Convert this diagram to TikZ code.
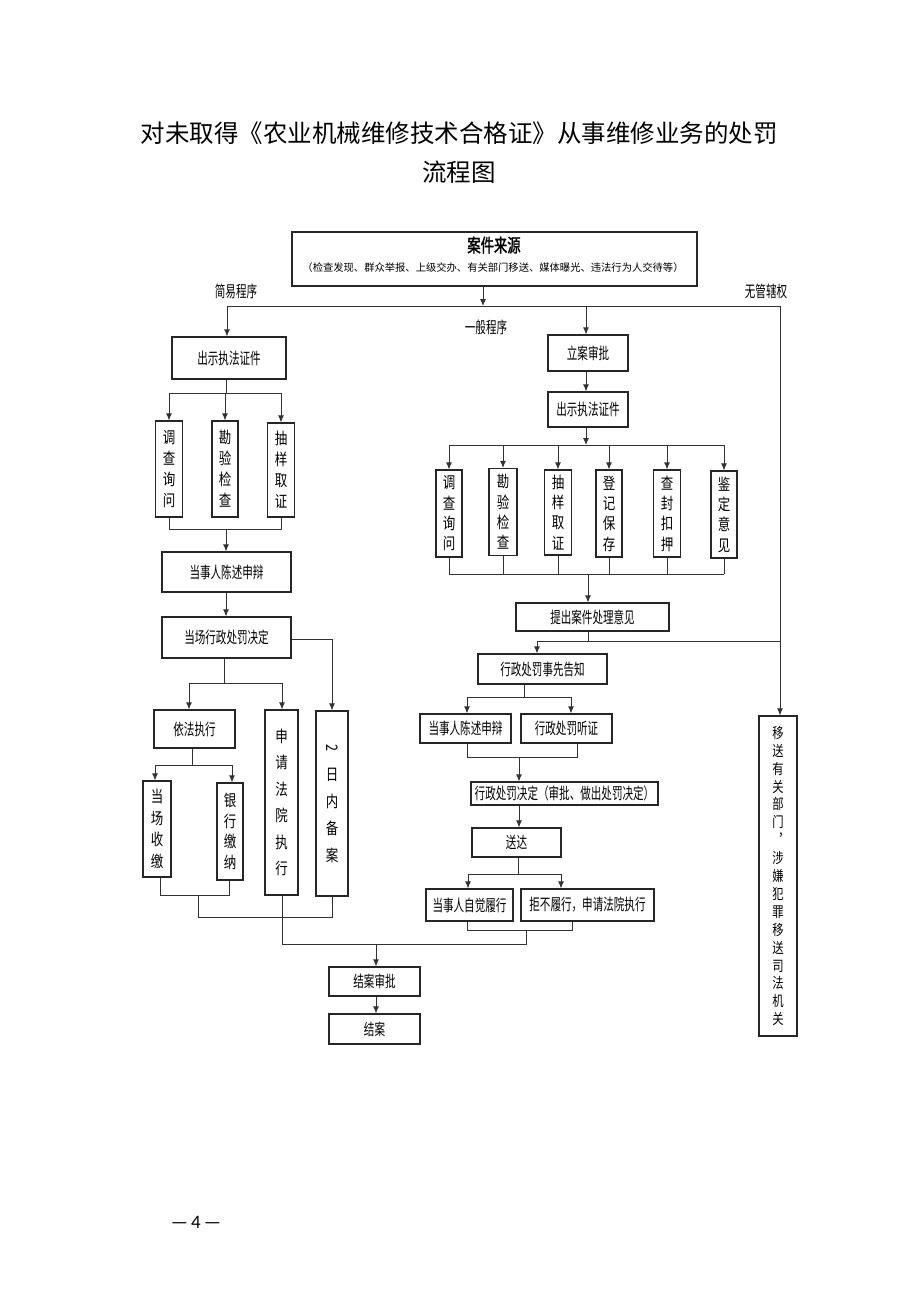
\documentclass[tikz,border=0pt]{standalone}
\usepackage{fontspec}
\usepackage{graphicx}
\usetikzlibrary{arrows.meta}
\newfontfamily\cjk{Noto Sans CJK SC}
\newfontfamily\cjkn[FakeStretch=0.66]{Noto Sans CJK SC}
\newfontfamily\cjkv[FakeStretch=0.78]{Noto Sans CJK SC}
\newfontfamily\cjknb[FakeStretch=0.72,FakeBold=1.5]{Noto Sans CJK SC}
\newfontfamily\pnum{Carlito}
\tikzset{
  bx/.style={draw=black!85, line width=1.2pt, inner sep=0pt, font=\fontsize{16}{18}\cjkn},
  vbx/.style={draw=black!85, line width=1.2pt, inner sep=0pt, align=center, font=\fontsize{16}{21}\cjkv},
  lbl/.style={inner sep=0pt, font=\fontsize{16}{18}\cjkn},
  ln/.style={draw=black!80, line width=0.9pt},
  arr/.style={ln, -{Latex[length=7pt,width=6pt]}}
}
\begin{document}
\begin{tikzpicture}[x=1pt,y=-1pt]
\useasboundingbox[fill=white] (0,0) rectangle (920,1302);
% title
\node[inner sep=0pt, font=\fontsize{24.5}{26}\cjk] (t1) at (459,133) {对未取得《农业机械维修技术合格证》从事维修业务的处罚};
\node[inner sep=0pt, font=\fontsize{24.5}{26}\cjk] (t2) at (459,172) {流程图};
% source box
\node[bx, minimum width=405pt, minimum height=54pt] (src) at (494.5,259) {};
\node[inner sep=0pt, font=\fontsize{18.5}{20}\cjknb] (srcA) at (494,245) {案件来源};
\node[inner sep=0pt, font=\fontsize{10.3}{12}\cjk] (srcB) at (493,268) {（检查发现、群众举报、上级交办、有关部门移送、媒体曝光、违法行为人交待等）};
% labels
\node[lbl] (la) at (236,291) {简易程序};
\node[lbl] (lb) at (766,291) {无管辖权};
\node[lbl] (lc) at (486,327) {一般程序};
% left column
\node[bx, minimum width=114pt, minimum height=42pt] (L1) at (229,358) {出示执法证件};
\node[vbx, minimum width=27pt, minimum height=96pt] (LV1) at (169,469) {调\\查\\询\\问};
\node[vbx, minimum width=26pt, minimum height=96pt] (LV2) at (225,469) {勘\\验\\检\\查};
\node[vbx, minimum width=27pt, minimum height=94pt] (LV3) at (281,470) {抽\\样\\取\\证};
\node[bx, minimum width=129pt, minimum height=40pt] (L2) at (226.5,572) {当事人陈述申辩};
\node[bx, minimum width=129pt, minimum height=41pt] (L3) at (226.5,637.5) {当场行政处罚决定};
\node[bx, minimum width=81pt, minimum height=38pt] (L4) at (194.5,729) {依法执行};
\node[vbx, minimum width=28pt, minimum height=96pt, font=\fontsize{16}{21.5}\cjkv] (L4a) at (157,829) {当\\场\\收\\缴};
\node[vbx, minimum width=26pt, minimum height=97pt, font=\fontsize{16}{20.5}\cjkv] (L4b) at (230,831.5) {银\\行\\缴\\纳};
\node[vbx, minimum width=33pt, minimum height=185pt, font=\fontsize{16}{26.5}\cjkv] (L6) at (281.5,802.5) {申\\请\\法\\院\\执\\行};
\node[vbx, minimum width=32pt, minimum height=185pt, font=\fontsize{16}{27}\cjkv] (L7) at (332,803.5) {\rotatebox[origin=c]{-90}{2}\\日\\内\\备\\案};
% right column
\node[bx, minimum width=80pt, minimum height=36pt] (R1) at (588,353) {立案审批};
\node[bx, minimum width=80pt, minimum height=35pt] (R2) at (588,409.5) {出示执法证件};
\node[vbx, minimum width=26pt, minimum height=87pt, font=\fontsize{16}{20.3}\cjkv] (RV1) at (449,513.5) {调\\查\\询\\问};
\node[vbx, minimum width=28pt, minimum height=87pt, font=\fontsize{16}{20.3}\cjkv] (RV2) at (503,512) {勘\\验\\检\\查};
\node[vbx, minimum width=27pt, minimum height=85pt, font=\fontsize{16}{20.3}\cjkv] (RV3) at (558,512.5) {抽\\样\\取\\证};
\node[vbx, minimum width=26pt, minimum height=87pt, font=\fontsize{16}{20.3}\cjkv] (RV4) at (609,513.5) {登\\记\\保\\存};
\node[vbx, minimum width=27pt, minimum height=87pt, font=\fontsize{16}{20.3}\cjkv] (RV5) at (667,513.5) {查\\封\\扣\\押};
\node[vbx, minimum width=26pt, minimum height=87pt, font=\fontsize{16}{20.3}\cjkv] (RV6) at (724,514.5) {鉴\\定\\意\\见};
\node[bx, minimum width=153pt, minimum height=28pt] (R3) at (592.5,617) {提出案件处理意见};
\node[bx, minimum width=129pt, minimum height=30pt] (R4) at (542.5,669) {行政处罚事先告知};
\node[bx, minimum width=91pt, minimum height=29pt] (R5a) at (465.5,728.5) {当事人陈述申辩};
\node[bx, minimum width=91pt, minimum height=29pt] (R5b) at (566.5,728.5) {行政处罚听证};
\node[bx, minimum width=187pt, minimum height=23pt] (R6) at (564.5,793.5) {行政处罚决定（审批、做出处罚决定）};
\node[bx, minimum width=89pt, minimum height=29pt] (R7) at (516.5,842.5) {送达};
\node[bx, minimum width=87pt, minimum height=32pt] (R8a) at (469.5,905) {当事人自觉履行};
\node[bx, minimum width=133pt, minimum height=32pt] (R8b) at (587.5,905) {拒不履行，申请法院执行};
% end
\node[bx, minimum width=91pt, minimum height=29pt] (E1) at (374.5,981.5) {结案审批};
\node[bx, minimum width=91pt, minimum height=30pt] (E2) at (374.5,1029) {结案};
% far right
\node[vbx, minimum width=38pt, minimum height=320pt, font=\fontsize{14.5}{17.9}\cjkv] (X) at (778,876) {移\\送\\有\\关\\部\\门\\︐\\涉\\嫌\\犯\\罪\\移\\送\\司\\法\\机\\关};
% page number
\node[inner sep=0pt, font=\fontsize{19}{21}\pnum] (pg) at (196,1222) {—\,4\,—};

% ---- connectors ----
\coordinate (sJ) at (483,306);
\coordinate (sL) at (227,306);
\coordinate (sM) at (586,306);
\coordinate (sR) at (780,306);
\draw[arr] (sJ |- src.south) -- (sJ);
\draw[ln] (sL) -- (sR);
\draw[arr] (sL) -- (sL |- L1.north);
\draw[arr] (sM) -- (sM |- R1.north);
\draw[arr] (sR) -- (sR |- X.north);
% left branch
\coordinate (lb1) at (226,393);
\draw[ln] (lb1 |- L1.south) -- (lb1);
\draw[ln] (LV1.north |- lb1) -- (LV3.north |- lb1);
\foreach \n in {LV1,LV2,LV3} \draw[arr] (\n.north |- lb1) -- (\n.north);
\coordinate (lm1) at (226,529);
\draw[ln] (LV1.south) -- (LV1.south |- lm1) -- (LV3.south |- lm1) -- (LV3.south);
\draw[arr] (lm1) -- (lm1 |- L2.north);
\draw[arr] (lm1 |- L2.south) -- (lm1 |- L3.north);
\coordinate (l3r) at (332,639);
\draw[arr] (l3r -| L3.east) -- (l3r) -- (l3r |- L7.north);
\coordinate (lb2) at (224,683);
\coordinate (lb2a) at (189,683);
\coordinate (lb2b) at (282,683);
\draw[ln] (lb2 |- L3.south) -- (lb2);
\draw[ln] (lb2a) -- (lb2b);
\draw[arr] (lb2a) -- (lb2a |- L4.north);
\draw[arr] (lb2b) -- (lb2b |- L6.north);
\coordinate (lb3) at (192,765);
\coordinate (lb3a) at (155,765);
\coordinate (lb3b) at (232,765);
\draw[ln] (lb3 |- L4.south) -- (lb3);
\draw[ln] (lb3a) -- (lb3b);
\draw[arr] (lb3a) -- (lb3a |- L4a.north);
\draw[arr] (lb3b) -- (lb3b |- L4b.north);
\coordinate (lm3a) at (160,895);
\coordinate (lm3b) at (229,895);
\draw[ln] (lm3a |- L4a.south) -- (lm3a) -- (lm3b) -- (lm3b |- L4b.south);
\coordinate (lm4) at (198,917);
\draw[ln] (lm4 |- lm3a) -- (lm4) -- (L7.south |- lm4) -- (L7.south);
% bottom merge
\coordinate (bm1) at (282,944);
\coordinate (bm2) at (526,944);
\coordinate (rm4) at (526,930);
\draw[ln] (bm1 |- L6.south) -- (bm1) -- (bm2) -- (rm4);
\coordinate (ea) at (376,944);
\draw[arr] (ea) -- (ea |- E1.north);
\draw[arr] (ea |- E1.south) -- (ea |- E2.north);
% right branch
\draw[arr] (sM |- R1.south) -- (sM |- R2.north);
\coordinate (rb1) at (586,445);
\draw[arr] (rb1 |- R2.south) -- (rb1);
\draw[ln] (RV1.north |- rb1) -- (RV6.north |- rb1);
\foreach \n in {RV1,RV2,RV3,RV4,RV5,RV6} \draw[arr] (\n.north |- rb1) -- (\n.north);
\coordinate (rm1) at (588,574);
\draw[ln] (RV1.south |- rm1) -- (RV6.south |- rm1);
\foreach \n in {RV1,RV2,RV3,RV4,RV5,RV6} \draw[ln] (\n.south) -- (\n.south |- rm1);
\draw[arr] (rm1) -- (rm1 |- R3.north);
\coordinate (rb2) at (588,641);
\coordinate (rb2a) at (537,641);
\draw[ln] (rb2 |- R3.south) -- (rb2);
\draw[ln] (rb2a) -- (rb2a -| sR);
\draw[arr] (rb2a) -- (rb2a |- R4.north);
\coordinate (rb3) at (524,697);
\coordinate (rb3a) at (467,697);
\coordinate (rb3b) at (571,697);
\draw[ln] (rb3 |- R4.south) -- (rb3);
\draw[ln] (rb3a) -- (rb3b);
\draw[arr] (rb3a) -- (rb3a |- R5a.north);
\draw[arr] (rb3b) -- (rb3b |- R5b.north);
\coordinate (rm3) at (519,757);
\coordinate (rm3a) at (467,757);
\coordinate (rm3b) at (577,757);
\draw[ln] (rm3a |- R5a.south) -- (rm3a) -- (rm3b) -- (rm3b |- R5b.south);
\draw[arr] (rm3) -- (rm3 |- R6.north);
\draw[arr] (rm3 |- R6.south) -- (rm3 |- R7.north);
\coordinate (rb4) at (518,874);
\coordinate (rb4a) at (468,874);
\coordinate (rb4b) at (561,874);
\draw[ln] (rb4 |- R7.south) -- (rb4);
\draw[ln] (rb4a) -- (rb4b);
\draw[arr] (rb4a) -- (rb4a |- R8a.north);
\draw[arr] (rb4b) -- (rb4b |- R8b.north);
\coordinate (rm4a) at (467,930);
\coordinate (rm4b) at (572,930);
\draw[ln] (rm4a |- R8a.south) -- (rm4a) -- (rm4b) -- (rm4b |- R8b.south);
\end{tikzpicture}
\end{document}
